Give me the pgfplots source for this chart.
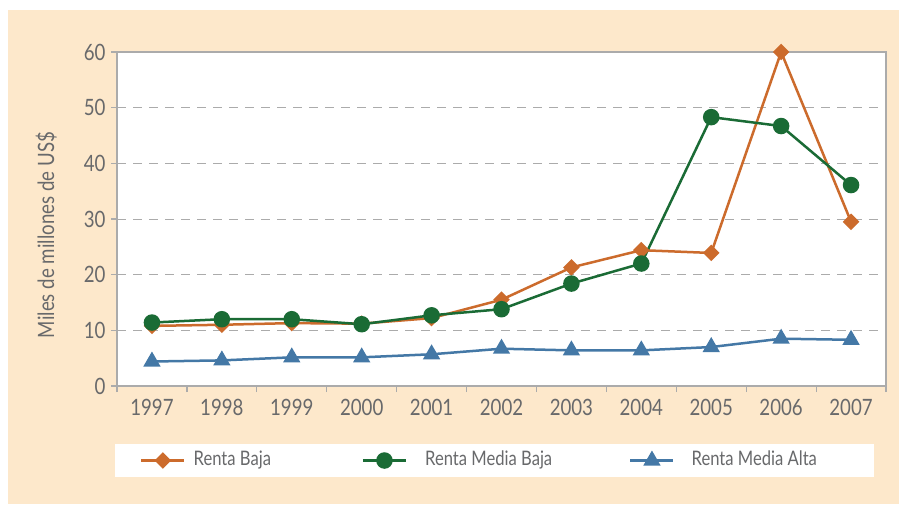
\documentclass[border=0pt]{standalone}
\usepackage{fontspec}
\setmainfont{Lato}[FakeStretch=0.83]
\usepackage{pgfplots}
\pgfplotsset{compat=1.18}
\definecolor{bg}{HTML}{FDE8CB}
\definecolor{axgray}{HTML}{ABABAB}
\definecolor{txtgray}{HTML}{68696B}
\definecolor{cOr}{HTML}{CC6B2C}
\definecolor{cGr}{HTML}{1A6B35}
\definecolor{cBl}{HTML}{4478A6}
\begin{document}
\begin{tikzpicture}[x=1pt,y=1pt]
\path[use as bounding box] (0,0) rectangle (899,504);
\fill[white] (0,0) rectangle (899,504);
\fill[bg] (8,0) rectangle (899,494);
\begin{axis}[
  at={(117pt,118pt)}, anchor=south west,
  scale only axis, width=769pt, height=334pt,
  xmin=-0.5, xmax=10.5, ymin=0, ymax=60,
  xtick={0,...,10},
  xticklabels={1997,1998,1999,2000,2001,2002,2003,2004,2005,2006,2007},
  minor xtick={-0.5,0.5,...,10.5},
  ytick={0,10,...,60},
  ymajorgrids,
  grid style={axgray, line width=1pt, dash pattern=on 9pt off 7pt},
  tick align=outside, tick pos=left,
  major tick length=6pt, minor tick length=6pt,
  x tick style={draw=none},
  minor x tick style={draw=axgray, line width=1.2pt},
  y tick style={draw=axgray, line width=1.2pt},
  axis line style={draw=axgray, line width=1.2pt},
  axis background/.style={fill=white},
  /pgf/number format/assume math mode=true,
  tick label style={font=\fontsize{22.5}{24}\selectfont, text=txtgray},
  x tick label style={yshift=-4pt},
  y tick label style={xshift=-2pt},
  ylabel={Miles de millones de US\$},
  every axis y label/.style={at={(axis description cs:-0.092,0.452)}, rotate=90, anchor=center,
    font=\fontsize{22.5}{24}\selectfont, text=txtgray},
  legend columns=3,
  legend style={at={(-0.0026,-0.2231)}, anchor=west, fill=white, draw=none,
    inner xsep=25pt, inner ysep=8pt,
    font=\fontsize{20}{22}\selectfont, text=txtgray,
    nodes={inner sep=0pt, text height=13pt, text depth=4pt},
    /tikz/every even column/.style={column sep=0pt}},
  legend image code/.code={\draw[mark repeat=2, mark phase=2] plot coordinates {(0pt,0pt) (21.5pt,0pt) (43pt,0pt)};},
  every axis plot/.append style={line width=2.5pt},
]
\addplot[cOr, mark=square*, mark size=4.6pt, mark options={rotate=45, solid}] coordinates {
(0,10.8) (1,11.0) (2,11.3) (3,11.2) (4,12.2) (5,15.5) (6,21.3) (7,24.4) (8,23.9) (9,60.0) (10,29.5)};
\addlegendentry{\hspace*{8pt}\makebox[168pt][l]{Renta Baja}}
\addplot[cGr, mark=*, mark size=7pt] coordinates {
(0,11.4) (1,12.0) (2,12.0) (3,11.1) (4,12.7) (5,13.8) (6,18.4) (7,22.0) (8,48.3) (9,46.7) (10,36.1)};
\addlegendentry{\hspace*{18pt}\makebox[204pt][l]{Renta Media Baja}}
\addplot[cBl, mark=triangle*, mark size=7.5pt] coordinates {
(0,4.4) (1,4.6) (2,5.15) (3,5.15) (4,5.7) (5,6.7) (6,6.4) (7,6.4) (8,7.0) (9,8.5) (10,8.3)};
\addlegendentry{\hspace*{17pt}\makebox[157pt][l]{Renta Media Alta}}
\end{axis}
\end{tikzpicture}
\end{document}
